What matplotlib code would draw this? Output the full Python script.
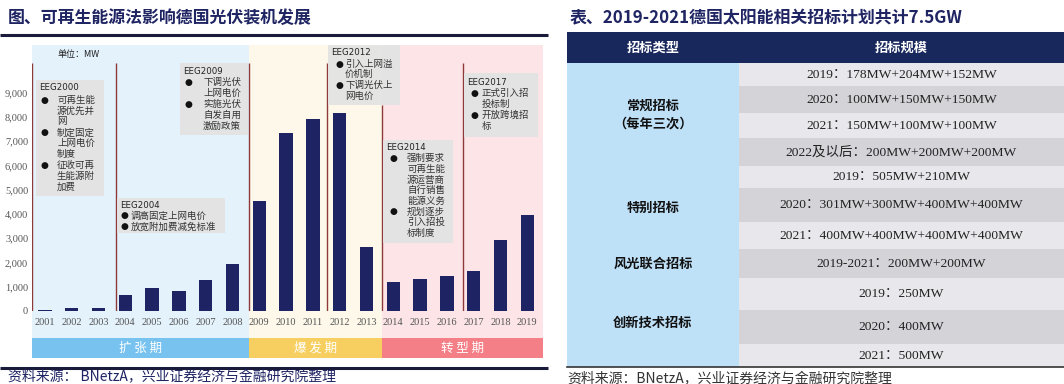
import matplotlib
matplotlib.use('Agg')
import matplotlib.pyplot as plt
from matplotlib.patches import Rectangle
from matplotlib.ticker import FuncFormatter

# ---------------- data ----------------
years = list(range(2001, 2020))
installs_mw = [50, 110, 130, 660, 960, 830, 1280, 1940, 4520, 7330,
               7900, 8150, 2640, 1180, 1320, 1440, 1660, 2930, 3950]
unit_label = '单位：MW'
phase_names = ['扩 张 期', '爆 发 期', '转 型 期']
eeg_titles = ['EEG2000', 'EEG2004', 'EEG2009', 'EEG2012', 'EEG2014', 'EEG2017']
eeg_items = [
    ['可再生能\n源优先并\n网', '制定固定\n上网电价\n制度', '征收可再\n生能源附\n加费'],
    ['调高固定上网电价', '放宽附加费减免标准'],
    ['下调光伏\n上网电价', '实施光伏\n自发自用\n激励政策'],
    ['引入上网溢\n价机制', '下调光伏上\n网电价'],
    ['强制要求\n可再生能\n源运营商\n自行销售\n能源义务', '规划逐步\n引入招投\n标制度'],
    ['正式引入招\n投标制', '开放跨境招\n标'],
]
left_title = '图、可再生能源法影响德国光伏装机发展'
right_title = '表、2019-2021德国太阳能相关招标计划共计7.5GW'
left_source = '资料来源： BNetzA，兴业证券经济与金融研究院整理'
right_source = '资料来源：BNetzA，兴业证券经济与金融研究院整理'
table_headers = ['招标类型', '招标规模']
tender_types = ['常规招标\n（每年三次）', '特别招标', '风光联合招标', '创新技术招标']
tender_group_sizes = [4, 3, 1, 3]
tender_rows = ['2019：178MW+204MW+152MW', '2020：100MW+150MW+150MW',
               '2021：150MW+100MW+100MW', '2022及以后：200MW+200MW+200MW',
               '2019：505MW+210MW', '2020：301MW+300MW+400MW+400MW',
               '2021：400MW+400MW+400MW+400MW', '2019-2021：200MW+200MW',
               '2019：250MW', '2020：400MW', '2021：500MW']

# ---------------- styles ----------------
CJK = ['Noto Sans CJK SC', 'DejaVu Sans']
SERIF = ['Liberation Serif', 'Noto Sans CJK SC']
NAVY = '#1f2463'
plt.rcParams['font.family'] = CJK

W, H = 1064, 384
fig = plt.figure(figsize=(W / 100, H / 100), dpi=100)

bg = fig.add_axes([0, 0, 1, 1], zorder=0)
bg.set_xlim(0, W); bg.set_ylim(H, 0); bg.axis('off')

# bar axes: x 31.6..540.6 px, y 45..311 px
ax = fig.add_axes([31.6 / W, (H - 311) / H, 509 / W, 266 / H], zorder=1)
ax.patch.set_alpha(0)

top = fig.add_axes([0, 0, 1, 1], zorder=2)
top.set_xlim(0, W); top.set_ylim(H, 0); top.axis('off')
top.patch.set_alpha(0)

# ---------------- left panel backgrounds ----------------
regions = [(32, 249, '#e4f2fc', '#77c2ef'),
           (249, 382, '#fdf8e9', '#f7cf60'),
           (382, 543, '#fde5e7', '#f47f87')]
for (x0, x1, c_bg, c_ph), name in zip(regions, phase_names):
    bg.add_patch(Rectangle((x0, 45), x1 - x0, 313, color=c_bg, lw=0))
    bg.add_patch(Rectangle((x0, 338), x1 - x0, 20, color=c_ph, lw=0))
    bg.text((x0 + x1) / 2, 348, name, color='white', fontsize=9,
            ha='center', va='center', family=CJK)

# ---------------- bars ----------------
ax.bar(years, installs_mw, width=0.5, color='#1e2363', zorder=3)
ax.set_xlim(2000.5, 2019.5)
px_per = 1000 / 24.25
ax.set_ylim(0, (311 - 45) * px_per)
ax.set_yticks(range(0, 10000, 1000))
ax.yaxis.set_major_formatter(FuncFormatter(lambda v, p: f'{int(v):,}'))
ax.set_xticks(years)
ax.set_xticklabels([str(y) for y in years])
for lab in ax.get_xticklabels() + ax.get_yticklabels():
    lab.set_family(['Liberation Serif'])
    lab.set_fontsize(7.5)
    lab.set_color('#555555')
ax.tick_params(axis='both', length=0)
ax.tick_params(axis='x', pad=5)
ax.tick_params(axis='y', pad=2.5)
for s in ax.spines.values():
    s.set_visible(False)

# policy change divider lines
def ypx(v):
    return (311 - v) * px_per
line_pos = [2000.52, 2003.65, 2008.61, 2011.53, 2013.58, 2016.6]
line_top = [63, 63, 63, 63, 105, 63]
for xp, tp in zip(line_pos, line_top):
    ax.vlines(xp, 0, ypx(tp), color='#8e3a3a', lw=1, zorder=2)

top.text(57, 55, unit_label, fontsize=6.5, color='#222222', va='center', family=CJK)

# ---------------- EEG boxes ----------------
box_layout = [
    (36, 80, 104, 196, 88, 40.5, 57, 100, 10.95),
    (117, 198, 225, 233, 205, 120.5, 131, 215.7, 11),
    (180, 63, 248, 135, 71.7, 184.5, 203, 82.7, 10.8),
    (328, 45, 400, 105, 52.7, 335, 345, 64, 10.7),
    (383, 140, 453, 243, 147.3, 389.5, 407, 158.3, 10.7),
    (464, 73, 538, 137, 82.7, 470.5, 481.7, 93.3, 10.9),
]
for title, items, lay in zip(eeg_titles, eeg_items, box_layout):
    x0, y0, x1, y1, ty, bx, tx, ly, lh = lay
    top.add_patch(Rectangle((x0, y0), x1 - x0, y1 - y0, color='#e3e3e3', lw=0, alpha=0.95))
    top.text(x0 + 3, ty, title, fontsize=6.2, color='#222222', va='center', family=['DejaVu Sans'])
    y = ly
    for it in items:
        top.text(bx, y, '●', fontsize=6.5, color='#111111', va='center', ha='left', family=['DejaVu Sans'])
        for line in it.split('\n'):
            top.text(tx, y, line, fontsize=6.8, color='#333333', va='center', ha='left', family=CJK)
            y += lh

# ---------------- titles / sources left ----------------
top.text(8, 18, left_title, fontsize=12.2, fontweight='bold', color=NAVY, va='center', family=CJK)
top.plot([0, 548], [34.5, 34.5], color='#1a1a3a', lw=2.2, solid_capstyle='butt')
top.plot([0, 548], [368, 368], color='#1a1a3a', lw=2.2, solid_capstyle='butt')
top.text(8, 377, left_source, fontsize=10, color=NAVY, va='center', family=CJK)

# ---------------- table ----------------
top.text(570, 18, right_title, fontsize=12.2, fontweight='bold', color=NAVY, va='center', family=CJK)
tx0, tsplit, tx1 = 567, 739, 1064
top.add_patch(Rectangle((tx0, 32), tx1 - tx0, 31, color='#19285c', lw=0))
top.text((tx0 + tsplit) / 2, 47.5, table_headers[0], color='white', fontsize=9.5,
         fontweight='bold', ha='center', va='center', family=CJK)
top.text((tsplit + tx1) / 2, 47.5, table_headers[1], color='white', fontsize=9.5,
         fontweight='bold', ha='center', va='center', family=CJK)

row_edges = [63, 86, 113, 138, 166, 188, 222, 249, 278, 310, 344, 367]
top.add_patch(Rectangle((tx0, 63), tsplit - tx0, 367 - 63, color='#bfe1f8', lw=0))
for i, txt in enumerate(tender_rows):
    ya, yb = row_edges[i], row_edges[i + 1]
    col = '#e8e8ec' if i % 2 == 0 else '#d3d3d8'
    top.add_patch(Rectangle((tsplit, ya), tx1 - tsplit, yb - ya, color=col, lw=0))
    top.text((tsplit + tx1) / 2, (ya + yb) / 2, txt, fontsize=9.7, color='#222222',
             ha='center', va='center', family=SERIF)

start = 0
for name, n in zip(tender_types, tender_group_sizes):
    ya, yb = row_edges[start], row_edges[start + n]
    top.text((tx0 + tsplit) / 2, (ya + yb) / 2, name, fontsize=9.5, fontweight='bold',
             color='#111111', ha='center', va='center', family=CJK, linespacing=1.4)
    start += n

top.plot([tx0, tx1], [367, 367], color='#333333', lw=1.2)
top.text(567, 379, right_source, fontsize=10, color='#333333', va='center', family=CJK)

fig.savefig('out.png', dpi=100)
